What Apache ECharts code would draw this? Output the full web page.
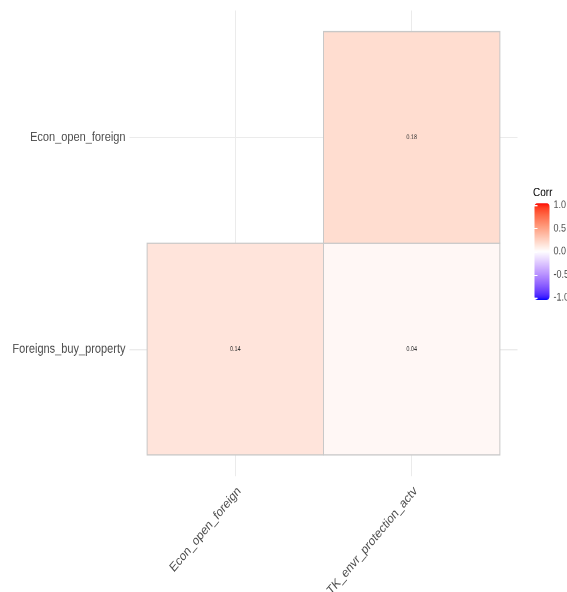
<!DOCTYPE html>
<html>
<head>
<meta charset="utf-8">
<script src="https://cdn.jsdelivr.net/npm/echarts@6/dist/echarts.min.js"></script>
<style>
  html, body { margin: 0; padding: 0; background: #ffffff; overflow: hidden; }
  #wrap { width: 567px; height: 592px; overflow: hidden; }
  /* the plot is laid out on square tiles and shown with a 1.2 vertical stretch */
  #chart { width: 567px; height: 493.33px; transform: scaleY(1.2); transform-origin: 0 0; }
</style>
</head>
<body>
<div id="wrap"><div id="chart"></div></div>
<script>
// Lower-triangle correlation matrix
const xLabels = ['Econ_open_foreign', 'TK_envr_protection_actv'];
const yLabels = ['Foreigns_buy_property', 'Econ_open_foreign'];
// rows follow yLabels (bottom to top), columns follow xLabels
const corrValues = [
  [0.14, 0.04],
  [null, 0.18]
];
const legendBreaks = [-1, -0.5, 0, 0.5, 1];

// --- colour ramp: blue - white - red, interpolated in CIE Lab ---
function srgbToLinear(c) { c /= 255; return c <= 0.04045 ? c / 12.92 : Math.pow((c + 0.055) / 1.055, 2.4); }
function linearToSrgb(c) { c = Math.min(1, Math.max(0, c)); return Math.round(255 * (c <= 0.0031308 ? 12.92 * c : 1.055 * Math.pow(c, 1 / 2.4) - 0.055)); }
function rgbToLab(rgb) {
  const r = srgbToLinear(rgb[0]), g = srgbToLinear(rgb[1]), b = srgbToLinear(rgb[2]);
  const X = (0.4124 * r + 0.3576 * g + 0.1805 * b) / 0.95047;
  const Y = (0.2126 * r + 0.7152 * g + 0.0722 * b);
  const Z = (0.0193 * r + 0.1192 * g + 0.9505 * b) / 1.08883;
  const f = t => t > 0.008856 ? Math.cbrt(t) : 7.787 * t + 16 / 116;
  const fx = f(X), fy = f(Y), fz = f(Z);
  return [116 * fy - 16, 500 * (fx - fy), 200 * (fy - fz)];
}
function labToRgb(lab) {
  const fy = (lab[0] + 16) / 116, fx = fy + lab[1] / 500, fz = fy - lab[2] / 200;
  const inv = t => t * t * t > 0.008856 ? t * t * t : (t - 16 / 116) / 7.787;
  const X = 0.95047 * inv(fx), Y = inv(fy), Z = 1.08883 * inv(fz);
  const r = 3.2406 * X - 1.5372 * Y - 0.4986 * Z;
  const g = -0.9689 * X + 1.8758 * Y + 0.0415 * Z;
  const b = 0.0557 * X - 0.2040 * Y + 1.0570 * Z;
  return [linearToSrgb(r), linearToSrgb(g), linearToSrgb(b)];
}
function mixLab(c1, c2, t) {
  const a = rgbToLab(c1), b = rgbToLab(c2);
  const m = labToRgb([a[0] + (b[0] - a[0]) * t, a[1] + (b[1] - a[1]) * t, a[2] + (b[2] - a[2]) * t]);
  return 'rgb(' + m.join(',') + ')';
}
const lowCol = [0, 0, 255], midCol = [255, 255, 255], highCol = [255, 0, 0];
const rampStops = [];
for (let i = 0; i <= 40; i++) {
  const v = -1 + i * 0.05;
  rampStops.push(v < 0 ? mixLab(midCol, lowCol, -v) : mixLab(midCol, highCol, v));
}

// --- tile data: [x index, y index, value] ---
const tiles = [];
corrValues.forEach((row, yi) => {
  row.forEach((v, xi) => {
    if (v !== null) tiles.push([xi + 1, yi + 1, v]);
  });
});

const gridLines = xLabels.map((_, i) => ({ xAxis: i + 1 }))
  .concat(yLabels.map((_, i) => ({ yAxis: i + 1 })));

const textColor = '#4d4d4d';
const fontFamily = '"Liberation Sans", Arial, sans-serif';
const whiteTick = { show: true, inside: true, length: 3, customValues: legendBreaks, lineStyle: { color: '#ffffff', width: 1 } };

const chart = echarts.init(document.getElementById('chart'), null, { renderer: 'canvas', devicePixelRatio: 2 });

chart.setOption({
  backgroundColor: '#ffffff',
  animation: false,
  textStyle: { fontFamily: fontFamily },
  title: {
    text: 'Corr',
    left: 533,
    top: 155.5,
    padding: 0,
    textStyle: { fontSize: 10, fontWeight: 'normal', color: '#000000', fontFamily: fontFamily }
  },
  grid: [
    { left: 129.5, top: 8.75, width: 388, height: 388, outerBoundsMode: 'none', containLabel: false },
    { left: 534.5, top: 171.25, width: 15, height: 77, outerBoundsMode: 'none', containLabel: false }
  ],
  xAxis: [
    {
      gridIndex: 0,
      type: 'value',
      min: 0.4,
      max: 2.6,
      axisLine: { show: false },
      axisTick: { show: false },
      splitLine: { show: false },
      axisLabel: {
        customValues: xLabels.map((_, i) => i + 1),
        formatter: v => xLabels[Math.round(v) - 1] || '',
        rotate: 45,
        align: 'right',
        verticalAlign: 'top',
        margin: 7,
        fontSize: 11,
        color: textColor,
        fontFamily: fontFamily
      }
    },
    { gridIndex: 1, type: 'value', min: 0, max: 1, show: false }
  ],
  yAxis: [
    {
      gridIndex: 0,
      type: 'value',
      min: 0.4,
      max: 2.6,
      axisLine: { show: false },
      axisTick: { show: false },
      splitLine: { show: false },
      axisLabel: {
        customValues: yLabels.map((_, i) => i + 1),
        formatter: v => yLabels[Math.round(v) - 1] || '',
        margin: 4,
        fontSize: 11,
        color: textColor,
        fontFamily: fontFamily
      }
    },
    {
      gridIndex: 1,
      type: 'value',
      min: -1,
      max: 1,
      position: 'right',
      z: 10,
      axisLine: { show: false },
      splitLine: { show: false },
      axisTick: whiteTick,
      axisLabel: {
        customValues: legendBreaks,
        formatter: v => v.toFixed(1),
        margin: 4,
        fontSize: 9,
        color: textColor,
        fontFamily: fontFamily
      }
    },
    {
      gridIndex: 1,
      type: 'value',
      min: -1,
      max: 1,
      position: 'left',
      z: 10,
      axisLine: { show: false },
      splitLine: { show: false },
      axisLabel: { show: false },
      axisTick: whiteTick
    }
  ],
  visualMap: {
    type: 'continuous',
    seriesIndex: 0,
    dimension: 2,
    min: -1,
    max: 1,
    calculable: false,
    orient: 'vertical',
    left: 534.5,
    top: 169.2,
    padding: 0,
    itemWidth: 15,
    itemHeight: 80.8,
    text: null,
    showLabel: false,
    inRange: { color: rampStops }
  },
  series: [
    {
      type: 'custom',
      xAxisIndex: 0,
      yAxisIndex: 0,
      z: 3,
      data: tiles,
      renderItem: function (params, api) {
        const x = api.value(0), y = api.value(1), v = api.value(2);
        const p0 = api.coord([x - 0.5, y + 0.5]);
        const p1 = api.coord([x + 0.5, y - 0.5]);
        const c = api.coord([x, y]);
        return {
          type: 'group',
          children: [
            {
              type: 'rect',
              shape: { x: p0[0], y: p0[1], width: p1[0] - p0[0], height: p1[1] - p0[1] },
              style: { fill: api.visual('color'), stroke: '#c8c8c8', lineWidth: 1 }
            },
            {
              type: 'text',
              x: c[0],
              y: c[1],
              style: {
                text: v.toFixed(2),
                fill: '#333333',
                fontSize: 5.5,
                fontFamily: fontFamily,
                align: 'center',
                verticalAlign: 'middle'
              }
            }
          ]
        };
      },
      markLine: {
        silent: true,
        z: 1,
        symbol: 'none',
        label: { show: false },
        lineStyle: { color: '#ebebeb', width: 1, type: 'solid' },
        emphasis: { disabled: true },
        data: gridLines
      }
    }
  ]
});
</script>
</body>
</html>
